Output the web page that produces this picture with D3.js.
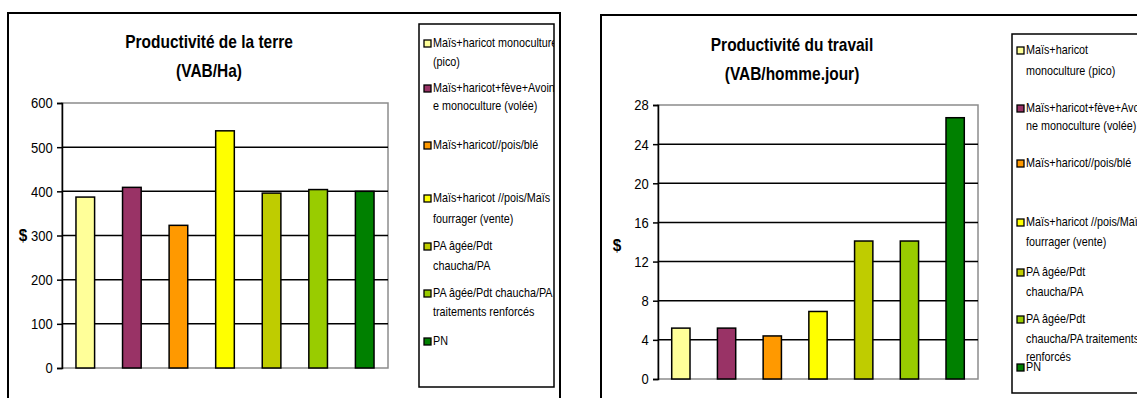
<!DOCTYPE html>
<html>
<head>
<meta charset="utf-8">
<script src="https://cdn.jsdelivr.net/npm/d3@7"></script>
<style>
  html, body { margin: 0; padding: 0; background: #fff; }
  svg { display: block; }
  text { font-family: "Liberation Sans", Arial, sans-serif; fill: #000; }
</style>
</head>
<body>
<svg id="chart" width="1137" height="398"></svg>
<script>
// Farming systems compared in both charts
const categories = [
  "Maïs+haricot monoculture (pico)",
  "Maïs+haricot+fève+Avoine monoculture (volée)",
  "Maïs+haricot//pois/blé",
  "Maïs+haricot //pois/Maïs fourrager (vente)",
  "PA âgée/Pdt chaucha/PA",
  "PA âgée/Pdt chaucha/PA traitements renforcés",
  "PN"
];
const colors = ["#FFFF99", "#993366", "#FF9900", "#FFFF00", "#BFCC00", "#99CC00", "#008000"];

// Land productivity (VAB/Ha)
const landValues = [387, 409, 323, 537, 396, 404, 400];
const landTicks = [0, 100, 200, 300, 400, 500, 600];

// Labour productivity (VAB/homme.jour)
const labourValues = [5.2, 5.2, 4.4, 6.9, 14.1, 14.1, 26.7];
const labourTicks = [0, 4, 8, 12, 16, 20, 24, 28];

// Legend lines as wrapped in each legend box
const landLegendLines = [
  ["Maïs+haricot monoculture", "(pico)"],
  ["Maïs+haricot+fève+Avoin", "e monoculture (volée)"],
  ["Maïs+haricot//pois/blé"],
  ["Maïs+haricot //pois/Maïs", "fourrager (vente)"],
  ["PA âgée/Pdt", "chaucha/PA"],
  ["PA âgée/Pdt chaucha/PA", "traitements renforcés"],
  ["PN"]
];
const labourLegendLines = [
  ["Maïs+haricot", "monoculture (pico)"],
  ["Maïs+haricot+fève+Avoi", "ne monoculture (volée)"],
  ["Maïs+haricot//pois/blé"],
  ["Maïs+haricot //pois/Maïs", "fourrager (vente)"],
  ["PA âgée/Pdt", "chaucha/PA"],
  ["PA âgée/Pdt", "chaucha/PA traitements", "renforcés"],
  ["PN"]
];

const svg = d3.select("#chart");

// narrow text: regular sans squeezed horizontally
function narrowText(parent, x, y, str, size, sx, opts = {}) {
  return parent.append("text")
    .attr("transform", `translate(${x},${y}) scale(${sx},1)`)
    .attr("text-anchor", opts.anchor || "start")
    .attr("dominant-baseline", opts.baseline || "auto")
    .attr("font-weight", opts.bold ? "bold" : "normal")
    .attr("font-size", size)
    .text(str);
}

function drawPanel(cfg) {
  const g = svg.append("g");

  // outer frame
  g.append("rect")
    .attr("x", cfg.frame[0]).attr("y", cfg.frame[1])
    .attr("width", cfg.frame[2]).attr("height", cfg.frame[3])
    .attr("fill", "#fff").attr("stroke", "#000").attr("stroke-width", 2);

  // titles
  narrowText(g, cfg.titleX, cfg.titleY, cfg.title, 18, 0.86, { anchor: "middle", bold: true });
  narrowText(g, cfg.titleX, cfg.titleY + 29, cfg.subtitle, 18, 0.86, { anchor: "middle", bold: true });

  const [px0, py0, px1, py1] = cfg.plot;
  const x = d3.scaleBand().domain(d3.range(cfg.values.length)).range([px0, px1]).paddingInner(0.6).paddingOuter(0.3);
  const y = d3.scaleLinear().domain([0, cfg.ticks[cfg.ticks.length - 1]]).range([py1, py0]);

  // plot area border
  g.append("rect").attr("x", px0).attr("y", py0).attr("width", px1 - px0).attr("height", py1 - py0)
    .attr("fill", "none").attr("stroke", "#8c8c8c").attr("stroke-width", 1.5);

  // gridlines
  g.selectAll(".grid").data(cfg.ticks.slice(1, -1)).enter().append("line")
    .attr("x1", px0).attr("x2", px1)
    .attr("y1", d => y(d)).attr("y2", d => y(d))
    .attr("stroke", "#000").attr("stroke-width", 1.5);

  // bars
  g.selectAll(".bar").data(cfg.values).enter().append("rect")
    .attr("x", (d, i) => x(i)).attr("width", x.bandwidth())
    .attr("y", d => y(d)).attr("height", d => y(0) - y(d))
    .attr("fill", (d, i) => colors[i]).attr("stroke", "#000").attr("stroke-width", 1.5);

  // y axis
  const axis = g.append("g").attr("transform", `translate(${px0},0)`)
    .call(d3.axisLeft(y).tickValues(cfg.ticks).tickSize(5).tickPadding(6));
  axis.select(".domain").attr("stroke", "#000").attr("stroke-width", 1.5);
  axis.selectAll(".tick line").attr("stroke", "#000").attr("stroke-width", 1.5);
  axis.selectAll(".tick text").attr("font-size", 15.5).attr("fill", "#000")
    .attr("transform", "scale(0.84,1)")
    .style("font-family", '"Liberation Sans", Arial, sans-serif');

  narrowText(g, cfg.unitX, cfg.unitY, "$", 17, 0.9, { anchor: "middle", baseline: "middle", bold: true });

  // legend box
  const [lx, ly, lw, lh] = cfg.legend;
  const clipId = "clip" + cfg.id;
  g.append("clipPath").attr("id", clipId).append("rect")
    .attr("x", lx).attr("y", ly).attr("width", lw).attr("height", lh);
  g.append("rect").attr("x", lx).attr("y", ly).attr("width", lw).attr("height", lh)
    .attr("fill", "#fff").attr("stroke", "#000").attr("stroke-width", 1.5);
  const lg = g.append("g").attr("clip-path", `url(#${clipId})`);
  cfg.legendLines.forEach((lines, i) => {
    const cy = cfg.legendY[i];
    lg.append("rect").attr("x", lx + 5).attr("y", cy[0] - 4).attr("width", 7).attr("height", 7)
      .attr("fill", colors[i]).attr("stroke", "#000").attr("stroke-width", 1.3);
    lines.forEach((t, j) => {
      narrowText(lg, lx + 14, cy[j], t, 13, 0.83, { baseline: "middle" });
    });
  });
}

drawPanel({
  id: "land",
  frame: [8, 13, 552, 400],
  title: "Productivité de la terre",
  subtitle: "(VAB/Ha)",
  titleX: 209, titleY: 47.5,
  plot: [62, 103, 388, 368],
  values: landValues,
  ticks: landTicks,
  unitX: 23, unitY: 237,
  legend: [419, 24, 135, 363],
  legendLines: landLegendLines,
  legendY: [[44, 63], [89, 107], [146], [199, 220], [247, 267], [294, 313], [342]]
});

drawPanel({
  id: "labour",
  frame: [601, 15, 560, 400],
  title: "Productivité du travail",
  subtitle: "(VAB/homme.jour)",
  titleX: 792, titleY: 50.5,
  plot: [658, 105, 978, 379],
  values: labourValues,
  ticks: labourTicks,
  unitX: 617, unitY: 247,
  legend: [1012, 34, 140, 359],
  legendLines: labourLegendLines,
  legendY: [[51, 72], [109, 127], [164], [223, 243], [273, 293], [320, 340, 358], [368]]
});
</script>
</body>
</html>
